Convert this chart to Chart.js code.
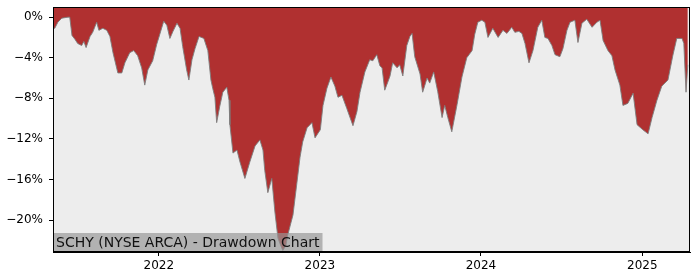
<!DOCTYPE html>
<html>
<head>
    <title>SCHY Drawdown Chart</title>
    <script src="https://cdn.jsdelivr.net/npm/chart.js"></script>
    <style>
        body {
            margin: 0;
            padding: 0;
            background-color: #ffffff;
        }
        .chart-container {
            width: 700px;
            height: 280px;
        }
    </style>
</head>
<body>
    <div class="chart-container">
        <canvas id="ddChart" width="700" height="280"></canvas>
    </div>

    <script>
        const chartTitle = 'SCHY (NYSE ARCA) - Drawdown Chart';

        const dates = [
            '2021-05-06','2021-05-10','2021-05-17','2021-05-26','2021-06-09','2021-06-13','2021-06-18','2021-06-25',
            '2021-07-01','2021-07-10','2021-07-15','2021-07-20','2021-07-29','2021-08-04','2021-08-13','2021-08-18',
            '2021-08-27','2021-09-05','2021-09-12','2021-09-19','2021-09-30','2021-10-09','2021-10-16','2021-10-27',
            '2021-11-05','2021-11-14','2021-11-23','2021-11-30','2021-12-07','2021-12-18','2021-12-27',
            '2022-01-03','2022-01-12','2022-01-19','2022-01-26','2022-02-02','2022-02-11','2022-02-18','2022-02-24',
            '2022-03-05','2022-03-10','2022-03-17','2022-03-24','2022-04-02','2022-04-13','2022-04-22','2022-04-29',
            '2022-05-03','2022-05-08','2022-05-12','2022-05-19','2022-05-26','2022-06-04','2022-06-09','2022-06-11',
            '2022-06-18','2022-06-27','2022-07-04','2022-07-15','2022-07-26','2022-08-07','2022-08-18','2022-08-25',
            '2022-08-29','2022-09-05','2022-09-14','2022-09-21','2022-09-28','2022-10-05','2022-10-09','2022-10-16',
            '2022-10-20','2022-11-01','2022-11-10','2022-11-17','2022-11-23','2022-12-03','2022-12-14','2022-12-21',
            '2022-12-27',
            '2023-01-02','2023-01-08','2023-01-17','2023-01-26','2023-02-04','2023-02-11','2023-02-20','2023-03-03',
            '2023-03-17','2023-03-26','2023-04-02','2023-04-13','2023-04-24','2023-05-01','2023-05-10','2023-05-17',
            '2023-05-22','2023-05-28','2023-06-04','2023-06-09','2023-06-15','2023-06-25','2023-07-01','2023-07-08',
            '2023-07-17','2023-07-24','2023-07-29','2023-08-04','2023-08-16','2023-08-22','2023-09-01','2023-09-07',
            '2023-09-16','2023-09-25','2023-10-05','2023-10-11','2023-10-18','2023-10-27','2023-11-08','2023-11-19',
            '2023-11-30','2023-12-12','2023-12-18','2023-12-25',
            '2024-01-03','2024-01-10','2024-01-17','2024-01-28','2024-02-09','2024-02-20','2024-02-29','2024-03-11',
            '2024-03-18','2024-03-27','2024-04-03','2024-04-10','2024-04-19','2024-04-28','2024-05-09','2024-05-18',
            '2024-05-25','2024-06-01','2024-06-10','2024-06-17','2024-06-28','2024-07-05','2024-07-14','2024-07-21',
            '2024-08-01','2024-08-08','2024-08-17','2024-08-28','2024-09-09','2024-09-20','2024-09-27','2024-10-04',
            '2024-10-15','2024-10-24','2024-10-31','2024-11-11','2024-11-18','2024-11-29','2024-12-11','2024-12-20',
            '2025-01-02','2025-01-14','2025-01-23','2025-02-03','2025-02-14','2025-02-28','2025-03-11','2025-03-20',
            '2025-04-01','2025-04-05','2025-04-10','2025-04-14'
        ];

        // drawdown in percent
        const drawdown = [
            -1.1, -1.1, -0.5, -0.1, 0, 0, -1.8, -2.2,
            -2.6, -2.8, -2.4, -3.0, -1.9, -1.5, -0.5, -1.3,
            -1.1, -1.3, -1.9, -3.5, -5.5, -5.5, -4.5, -3.5,
            -3.3, -3.8, -5.0, -6.7, -5.2, -4.3, -2.7,
            -1.7, -0.4, -0.8, -2.1, -1.4, -0.6, -1.1, -2.9,
            -5.2, -6.2, -4.2, -3.1, -1.9, -2.1, -3.3, -6.2,
            -7.0, -7.9, -10.4, -8.8, -7.4, -6.9, -8.2, -10.6,
            -13.4, -13.1, -14.3, -15.9, -14.3, -12.7, -12.1, -13.1,
            -15.1, -17.3, -15.9, -19.2, -21.8, -22.6, -23.0, -22.5,
            -21.5, -19.5, -16.3, -13.8, -12.3, -10.9, -10.4, -11.9,
            -11.5,
            -11.1, -8.7, -7.0, -5.9, -6.8, -7.9, -7.7, -9.0,
            -10.7, -9.3, -7.4, -5.4, -4.2, -4.3, -3.7, -4.8,
            -5.0, -7.2, -6.4, -5.8, -4.5, -5.0, -4.7, -5.8,
            -2.8, -1.9, -1.6, -3.9, -5.6, -7.4, -6.0, -6.5,
            -5.4, -7.3, -9.9, -8.7, -9.9, -11.3, -8.6, -5.9,
            -4.0, -3.3, -1.7, -0.5,
            -0.3, -0.5, -2.0, -1.1, -2.0, -1.3, -1.6, -1.0,
            -1.5, -1.4, -1.6, -2.6, -4.5, -3.3, -1.0, -0.3,
            -2.0, -2.1, -2.8, -3.7, -3.9, -3.1, -1.3, -0.5,
            -0.3, -2.5, -0.6, -0.2, -1.0, -0.5, -0.3, -2.3,
            -3.3, -3.8, -5.2, -6.7, -8.7, -8.5, -7.5, -10.6,
            -11.1, -11.5, -9.9, -8.2, -6.8, -6.2, -3.8, -2.1,
            -2.1, -2.6, -7.4, -4.7
        ];

        const xRange = ['2021-05-06', '2025-04-19'];
        const xTickLabels = ['2022', '2023', '2024', '2025'];
        const yTicks = [0, -4, -8, -12, -16, -20];
        const yRange = [-23.15, 1.0];

        const toTime = d => Date.parse(d + 'T00:00:00Z');
        const points = dates.map((d, i) => ({ x: toTime(d), y: drawdown[i] }));

        // plot background, frame and the title box
        const framePlugin = {
            id: 'frame',
            beforeDatasetsDraw(chart) {
                const { ctx, chartArea: a } = chart;
                ctx.save();
                ctx.fillStyle = '#ededed';
                ctx.fillRect(a.left, a.top, a.right - a.left, a.bottom - a.top);
                ctx.restore();
            },
            afterDatasetsDraw(chart) {
                const { ctx, chartArea: a } = chart;
                ctx.save();
                ctx.font = '14px "DejaVu Sans"';
                const w = ctx.measureText(chartTitle).width;
                ctx.fillStyle = 'rgba(150, 150, 150, 0.68)';
                ctx.fillRect(a.left, a.bottom - 19, w + 6, 19);
                ctx.fillStyle = '#111111';
                ctx.textBaseline = 'alphabetic';
                ctx.fillText(chartTitle, a.left + 3, a.bottom - 5);
                ctx.strokeStyle = '#000000';
                ctx.lineWidth = 1;
                ctx.strokeRect(a.left + 0.5, a.top + 0.5, a.right - a.left - 1, a.bottom - a.top - 1);
                ctx.restore();
            }
        };

        const ctx = document.getElementById('ddChart').getContext('2d');
        const ddChart = new Chart(ctx, {
            type: 'line',
            data: {
                datasets: [{
                    label: 'Drawdown',
                    data: points,
                    borderColor: 'rgba(125, 125, 125, 0.9)',
                    borderWidth: 1,
                    backgroundColor: '#b03030',
                    fill: 'end',
                    pointRadius: 0,
                    tension: 0
                }]
            },
            options: {
                responsive: false,
                animation: false,
                layout: {
                    padding: { top: 7, right: 10, left: 0, bottom: 0 }
                },
                plugins: {
                    legend: { display: false },
                    tooltip: { enabled: false }
                },
                scales: {
                    x: {
                        type: 'linear',
                        min: toTime(xRange[0]),
                        max: toTime(xRange[1]),
                        afterBuildTicks: scale => {
                            scale.ticks = xTickLabels.map(y => ({ value: toTime(y + '-01-01') }));
                        },
                        afterFit: scale => {
                            scale.height = 28;
                            scale.paddingLeft = 0;
                            scale.paddingRight = 0;
                        },
                        ticks: {
                            color: '#000000',
                            font: { family: 'DejaVu Sans', size: 12 },
                            padding: 3,
                            maxRotation: 0,
                            callback: v => new Date(v).getUTCFullYear()
                        },
                        grid: {
                            drawOnChartArea: false,
                            drawTicks: true,
                            tickLength: 4,
                            color: '#000000'
                        },
                        border: { display: true, color: '#000000' }
                    },
                    y: {
                        min: yRange[0],
                        max: yRange[1],
                        afterBuildTicks: scale => {
                            scale.ticks = yTicks.map(v => ({ value: v }));
                        },
                        afterFit: scale => {
                            scale.width = 53;
                            scale.paddingTop = 0;
                            scale.paddingBottom = 0;
                        },
                        ticks: {
                            color: '#000000',
                            font: { family: 'DejaVu Sans', size: 12 },
                            padding: 6,
                            callback: v => (v < 0 ? '\u2212' + Math.abs(v) : v) + '%'
                        },
                        grid: {
                            drawOnChartArea: false,
                            drawTicks: true,
                            tickLength: 4,
                            color: '#000000'
                        },
                        border: { display: true, color: '#000000' }
                    }
                }
            },
            plugins: [framePlugin]
        });
    </script>
</body>
</html>
